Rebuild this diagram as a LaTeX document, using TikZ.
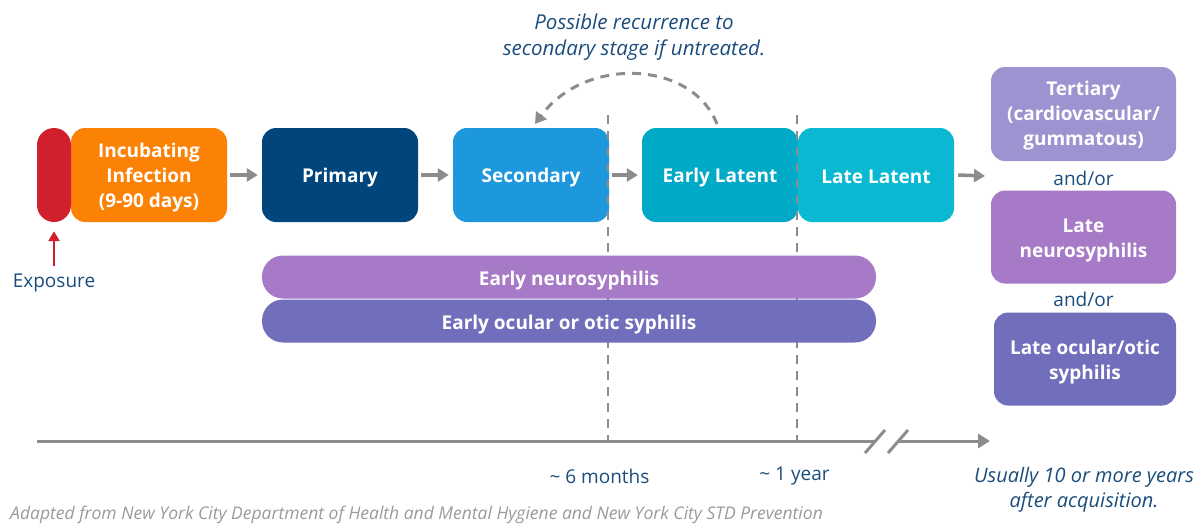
\documentclass[tikz,border=0pt]{standalone}
\usepackage{fontspec}
\setmainfont{Open Sans}
\usetikzlibrary{arrows.meta}
\definecolor{cred}{HTML}{D0202E}
\definecolor{corange}{HTML}{FC8205}
\definecolor{cprim}{HTML}{00457C}
\definecolor{csec}{HTML}{1E98DC}
\definecolor{cearly}{HTML}{00A9C5}
\definecolor{clate}{HTML}{0BB8D2}
\definecolor{cter}{HTML}{9B94D0}
\definecolor{cneuro}{HTML}{A67AC6}
\definecolor{cocu}{HTML}{716FBC}
\definecolor{cgray}{HTML}{8C8C8C}
\definecolor{ctext}{HTML}{1A4C7C}
\definecolor{cfoot}{HTML}{9A9A9A}
\tikzset{
  stagebox/.style={rounded corners=14pt, inner sep=0pt, minimum width=156pt, minimum height=94pt},
  bartype/.style={rounded corners=21pt, inner sep=0pt, minimum width=614pt, minimum height=43pt},
  stagetext/.style={inner sep=0pt, text=white, align=center,
    font=\fontsize{19}{25}\selectfont\bfseries},
  garrow/.style={draw=cgray, line width=3.5pt, -{Triangle[length=11pt,width=13pt]}},
  vdashline/.style={draw=cgray, line width=2.5pt, dash pattern=on 9pt off 7pt},
  lbl/.style={text=ctext, inner sep=0pt, align=center, font=\fontsize{19}{25}\selectfont},
  axisline/.style={draw=cgray, line width=3pt},
}
\begin{document}
\begin{tikzpicture}[x=1pt,y=-1pt]
\useasboundingbox (0,0) rectangle (1198,523);
% stage boxes
\node[stagebox, fill=corange] (inc) at (149,175) {};
\node[rounded corners=17pt, fill=cred, minimum width=34pt, minimum height=94pt, inner sep=0pt] (red) at (54,175) {};
\node[stagebox, fill=cprim] (prim) at (340,175) {};
\node[stagebox, fill=csec] (sec) at (531,175) {};
\node[stagebox, fill=cearly] (elat) at (720,175) {};
\node[stagebox, fill=clate] (llat) at (876,175) {};
% right column
\node[stagebox, fill=cter, minimum width=185pt] (ter) at (1083.5,114) {};
\node[stagebox, fill=cneuro, minimum width=185pt, minimum height=93pt] (lneuro) at (1083.5,237) {};
\node[stagebox, fill=cocu, minimum width=182pt, minimum height=93pt] (locu) at (1085,359) {};
\node[lbl] (and1) at (1083.5,178) {and/or};
\node[lbl] (and2) at (1083.5,299.5) {and/or};
% arrows between stages
\draw[garrow] ([xshift=3pt]inc.east) -- ([xshift=-4pt]prim.west);
\draw[garrow] ([xshift=3pt]prim.east) -- ([xshift=-4pt]sec.west);
\draw[garrow] ([xshift=3pt]sec.east) -- ([xshift=-4pt]elat.west);
\coordinate (rightend) at (985,176);
\draw[garrow] ([xshift=4pt]llat.east) -- (rightend);
% vertical dashed lines
\coordinate (d1top) at (608,115);
\coordinate (d1bot) at (608,441);
\coordinate (d2top) at (797,115);
\coordinate (d2bot) at (797,441);
\draw[vdashline] (d1top) -- (d1bot);
\draw[vdashline] (d2top) -- (d2bot);
% bars
\node[bartype, fill=cneuro] (eneuro) at (569,277) {};
\node[bartype, fill=cocu] (eocu) at (569,321) {};
% texts of boxes
\node[stagetext] (incT) at ([yshift=-2.5pt]inc.center) {Incubating\\Infection\\(9-90 days)};
\node[stagetext] (primT) at ([yshift=-3pt]prim.center) {Primary};
\node[stagetext] (secT) at ([yshift=-3pt]sec.center) {Secondary};
\node[stagetext] (elatT) at ([yshift=-3pt]elat.center) {Early Latent};
\node[stagetext] (llatT) at ([yshift=-2pt]llat.center) {Late Latent};
\node[stagetext] (terT) at ([yshift=-2pt]ter.center) {Tertiary\\(cardiovascular/\\gummatous)};
\node[stagetext] (lneuroT) at ([yshift=-3pt]lneuro.center) {Late\\neurosyphilis};
\node[stagetext] (locuT) at ([yshift=-3pt]locu.center) {Late ocular/otic\\syphilis};
\node[stagetext] (eneuroT) at ([yshift=-3.5pt]eneuro.center) {Early neurosyphilis};
\node[stagetext] (eocuT) at ([yshift=-3.5pt]eocu.center) {Early ocular or otic syphilis};
% recurrence arrow
\coordinate (rstart) at (717,124);
\coordinate (rend) at (535,124);
\draw[draw=cgray, line width=3pt, dash pattern=on 9pt off 7pt, -{Triangle[length=11pt,width=13pt]}]
  (rstart) .. controls (692,60) and (585,56) .. (rend);
\node[lbl, font=\fontsize{20.5}{26}\selectfont\itshape] (rtext) at (634,37) {Possible recurrence to\\secondary stage if untreated.};
% exposure
\node[lbl] (expo) at (54,283) {Exposure};
\draw[draw=cred, line width=2.5pt, -{Triangle[length=10pt,width=11pt]}] ([yshift=8pt]expo.north) -- ([yshift=-9pt]red.south);
% axis
\coordinate (a0) at (37,441);
\coordinate (a1) at (874,441);
\coordinate (a2) at (897,441);
\coordinate (a3) at (990,441);
\draw[axisline] (a0) -- (a1);
\draw[axisline, -{Triangle[length=12pt,width=14pt]}] (a2) -- (a3);
\coordinate (s1a) at (865,453); \coordinate (s1b) at (885,430);
\coordinate (s2a) at (888,453); \coordinate (s2b) at (908,430);
\draw[axisline] (s1a) -- (s1b);
\draw[axisline] (s2a) -- (s2b);
% axis labels
\node[lbl] (m6) at (599.5,476) {\textasciitilde\ 6 months};
\node[lbl] (y1) at (794.5,476) {\textasciitilde\ 1 year};
\node[lbl, font=\fontsize{20}{24.5}\selectfont\itshape] (ten) at (1084,490) {Usually 10 or more years\\after acquisition.};
\node[anchor=west, inner sep=0pt, text=cfoot, font=\fontsize{17.5}{18}\selectfont\itshape] (foot) at (10,514.5) {Adapted from New York City Department of Health and Mental Hygiene and New York City STD Prevention};
\end{tikzpicture}
\end{document}
